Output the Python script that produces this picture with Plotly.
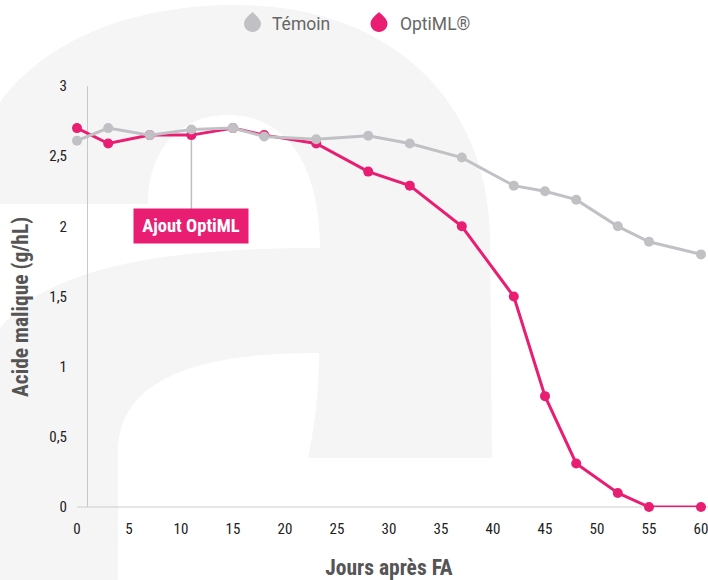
import plotly.graph_objects as go

jours = [0, 3, 7, 11, 15, 18, 23, 28, 32, 37, 42, 45, 48, 52, 55, 60]
temoin = [2.61, 2.70, 2.65, 2.69, 2.70, 2.64, 2.62, 2.645, 2.59, 2.49, 2.29, 2.25, 2.19, 2.00, 1.89, 1.80]
optiml = [2.70, 2.59, 2.65, 2.65, 2.70, 2.65, 2.59, 2.39, 2.29, 2.00, 1.50, 0.79, 0.31, 0.10, 0.0, 0.0]
x_ticks = list(range(0, 61, 5))
y_ticks = [0, 0.5, 1, 1.5, 2, 2.5, 3]
y_labels = ["0", "0,5", "1", "1,5", "2", "2,5", "3"]

PINK = "#e91e73"
GREY = "#c1c0c5"
TEXT = "#555555"
NARROW = "Roboto Condensed"
W, H = 708, 580
L, R, T, B = 77, 7, 86, 73


def px(x, y):
    return f"{(x - L) / (W - L - R):.5f},{1 - (y - T) / (H - T - B):.5f}"


def path(cmds):
    out = []
    for c in cmds:
        out.append(c[0] + " " + " ".join(px(*p) for p in c[1:]))
    return " ".join(out) + " Z"


letter = path([
    ("M", (0, 102)),
    ("C", (50, 35), (140, 5), (235, 5)),
    ("C", (400, 5), (490, 110), (490, 240)),
    ("L", (492, 458)),
    ("L", (308, 458)),
    ("C", (315, 425), (319, 390), (319, 353)),
    ("C", (230, 353), (118, 365), (118, 453)),
    ("L", (118, 580)),
    ("L", (0, 580)),
    ("L", (0, 328)),
    ("C", (50, 265), (170, 248), (320, 248)),
    ("C", (320, 170), (290, 115), (228, 115)),
    ("C", (180, 115), (148, 150), (148, 204)),
    ("L", (0, 204)),
])


def drop(cx, cy, r):
    k = r * 0.55
    return path([
        ("M", (cx, cy - r - 3)),
        ("C", (cx + 2, cy - r - 1), (cx + r, cy - k), (cx + r, cy)),
        ("C", (cx + r, cy + k), (cx + k, cy + r), (cx, cy + r)),
        ("C", (cx - k, cy + r), (cx - r, cy + k), (cx - r, cy)),
        ("C", (cx - r, cy - k), (cx - 2, cy - r - 1), (cx, cy - r - 3)),
    ])


fig = go.Figure()
fig.add_trace(go.Scatter(x=jours, y=optiml, name="OptiML®", mode="lines+markers",
                         line=dict(color=PINK, width=3), marker=dict(color=PINK, size=10),
                         cliponaxis=False))
fig.add_trace(go.Scatter(x=jours, y=temoin, name="Témoin", mode="lines+markers",
                         line=dict(color=GREY, width=3), marker=dict(color=GREY, size=10),
                         cliponaxis=False))

shapes = [
    dict(type="path", path=letter, xref="paper", yref="paper", fillcolor="#f5f5f5",
         line=dict(width=0), layer="below"),
    dict(type="line", xref="paper", yref="paper", x0=(87.5 - L) / (W - L - R), x1=(87.5 - L) / (W - L - R),
         y0=0, y1=1, line=dict(color="#c8c8c8", width=1), layer="below"),
    dict(type="line", xref="paper", yref="paper", x0=0, x1=(W - L) / (W - L - R), y0=0, y1=0,
         line=dict(color="#cccccc", width=1), layer="below"),
    dict(type="line", xref="x", yref="y", x0=11, x1=11, y0=2.65, y1=2.12,
         line=dict(color="#c0c0c0", width=1.5), layer="below"),
    dict(type="path", path=drop(252.5, 23.5, 8.5), xref="paper", yref="paper", fillcolor=GREY, line=dict(width=0)),
    dict(type="path", path=drop(379, 23.5, 8.5), xref="paper", yref="paper", fillcolor=PINK, line=dict(width=0)),
]


def note(text, xpx, ypx, **kw):
    return dict(text=text, x=(xpx - L) / (W - L - R), y=1 - (ypx - T) / (H - T - B), xref="paper", yref="paper",
                showarrow=False, **kw)


annotations = [
    note("Témoin", 270, 24, xanchor="left", yanchor="middle", font=dict(family="Roboto", size=17.5, color="#666666")),
    note("OptiML®", 398, 24, xanchor="left", yanchor="middle", font=dict(family="Roboto", size=17.5, color="#666666")),
    note("<b>Ajout OptiML</b>", 191, 226, xanchor="center", yanchor="middle", bgcolor=PINK, width=114, height=34,
         borderpad=0, font=dict(family=NARROW, size=18.5, color="white")),
    note("<b>Acide malique (g/hL)</b>", 20, 307, xanchor="center", yanchor="middle", textangle=-90,
         font=dict(family=NARROW, size=21.5, color=TEXT)),
]

fig.update_layout(
    width=W, height=H, margin=dict(l=L, r=R, t=T, b=B, autoexpand=False),
    paper_bgcolor="white", plot_bgcolor="rgba(0,0,0,0)", showlegend=False,
    shapes=shapes, annotations=annotations,
    font=dict(family=NARROW, color="#222222", size=15),
    xaxis=dict(range=[0, 60], tickvals=x_ticks, showgrid=False, zeroline=False, showline=False,
               ticks="outside", ticklen=8, tickcolor="rgba(0,0,0,0)", ticklabeloverflow="allow",
               title=dict(text="<b>Jours après FA</b>", standoff=24, font=dict(family=NARROW, size=21.5, color=TEXT))),
    yaxis=dict(range=[0, 3], tickvals=y_ticks, ticktext=y_labels, showgrid=False, zeroline=False, showline=False,
               ticks="outside", ticklen=6, tickcolor="rgba(0,0,0,0)"),
)
fig.write_html("out.html", config=dict(displayModeBar=False), post_script="document.body.style.margin='0';")
